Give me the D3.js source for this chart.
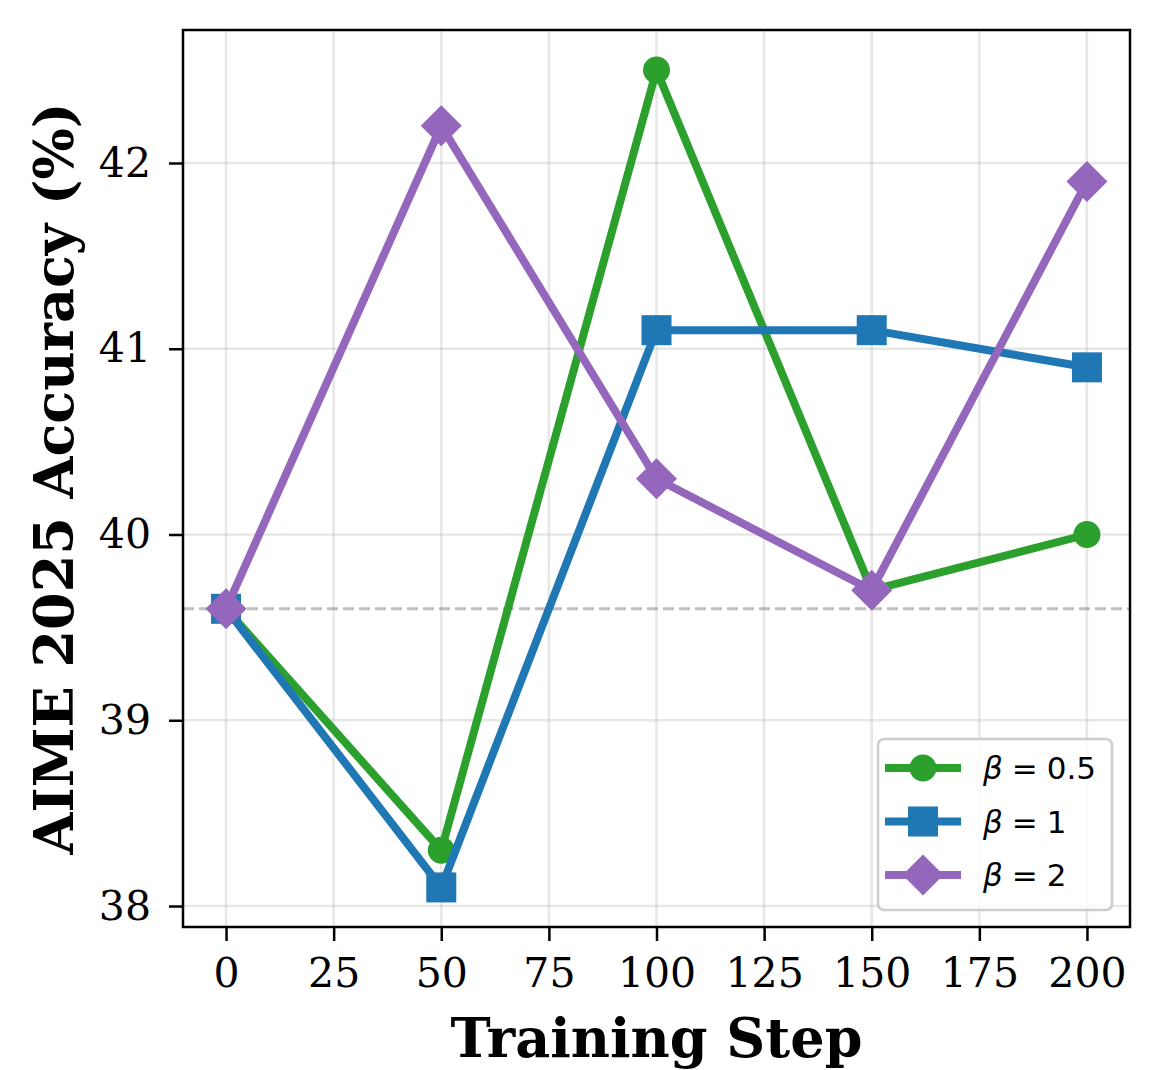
<!DOCTYPE html>
<html>
<head>
<meta charset="utf-8">
<script src="https://cdn.jsdelivr.net/npm/d3@7"></script>
<style>
  body { margin: 0; background: #fff; }
  svg { display: block; }
</style>
</head>
<body>
<div id="chart"></div>
<script>
// --- data ---
const steps = [0, 50, 100, 150, 200];
const beta05 = [39.6, 38.3, 42.5, 39.7, 40.0];
const beta1 = [39.6, 38.1, 41.1, 41.1, 40.9];
const beta2 = [39.6, 42.2, 40.3, 39.7, 41.9];
const baseline = 39.6;
const xTicks = [0, 25, 50, 75, 100, 125, 150, 175, 200];
const yTicks = [38, 39, 40, 41, 42];

const seriesList = [
    { label: '0.5', values: beta05, color: '#2ca02c', marker: 'circle' },
    { label: '1', values: beta1, color: '#1f77b4', marker: 'square' },
    { label: '2', values: beta2, color: '#9467bd', marker: 'diamond' }
];

const W = 1160, H = 1070;
const margin = { left: 183, top: 30, right: 30, bottom: 143 };
const serif = '"DejaVu Serif", serif';
const sans = '"DejaVu Sans", sans-serif';

const svg = d3.select('#chart').append('svg').attr('width', W).attr('height', H);

const x = d3.scaleLinear().domain([-10, 210]).range([margin.left, W - margin.right]);
const y = d3.scaleLinear().domain([37.887, 42.716]).range([H - margin.bottom, margin.top]);

// grid
const grid = svg.append('g');
grid.selectAll('.gx').data(xTicks).join('line')
    .attr('x1', d => x(d)).attr('x2', d => x(d))
    .attr('y1', y.range()[0]).attr('y2', y.range()[1])
    .attr('stroke', '#b0b0b0').attr('stroke-opacity', 0.3).attr('stroke-width', 2.5);
grid.selectAll('.gy').data(yTicks).join('line')
    .attr('y1', d => y(d)).attr('y2', d => y(d))
    .attr('x1', x.range()[0]).attr('x2', x.range()[1])
    .attr('stroke', '#b0b0b0').attr('stroke-opacity', 0.3).attr('stroke-width', 2.5);

// baseline
svg.append('line')
    .attr('x1', x.range()[0]).attr('x2', x.range()[1])
    .attr('y1', y(baseline)).attr('y2', y(baseline))
    .attr('stroke', '#808080').attr('stroke-opacity', 0.5)
    .attr('stroke-width', 3).attr('stroke-dasharray', '11,5');

// lines + markers
const line = d3.line().x((d, i) => x(steps[i])).y(d => y(d));

function drawMarker(g, type, cx, cy, color) {
    if (type === 'circle') {
        g.append('circle').attr('cx', cx).attr('cy', cy).attr('r', 13.5).attr('fill', color);
    } else if (type === 'square') {
        g.append('rect').attr('x', cx - 15).attr('y', cy - 15).attr('width', 30).attr('height', 30).attr('fill', color);
    } else {
        const r = 20.5;
        g.append('path').attr('d', `M${cx},${cy - r}L${cx + r},${cy}L${cx},${cy + r}L${cx - r},${cy}Z`).attr('fill', color);
    }
}

seriesList.forEach(s => {
    const g = svg.append('g');
    g.append('path').datum(s.values)
        .attr('d', line).attr('fill', 'none')
        .attr('stroke', s.color).attr('stroke-width', 8)
        .attr('stroke-linejoin', 'round').attr('stroke-linecap', 'square');
    s.values.forEach((v, i) => drawMarker(g, s.marker, x(steps[i]), y(v), s.color));
});

// frame
svg.append('rect')
    .attr('x', x.range()[0]).attr('y', y.range()[1])
    .attr('width', x.range()[1] - x.range()[0]).attr('height', y.range()[0] - y.range()[1])
    .attr('fill', 'none').attr('stroke', '#000').attr('stroke-width', 2.5);

// axes
const xAxis = svg.append('g').attr('transform', `translate(0,${y.range()[0]})`)
    .call(d3.axisBottom(x).tickValues(xTicks).tickSize(14).tickPadding(17).tickFormat(d3.format('d')));
const yAxis = svg.append('g').attr('transform', `translate(${x.range()[0]},0)`)
    .call(d3.axisLeft(y).tickValues(yTicks).tickSize(14).tickPadding(18).tickFormat(d3.format('d')));
[xAxis, yAxis].forEach(a => {
    a.select('.domain').remove();
    a.selectAll('.tick line').attr('stroke', '#000').attr('stroke-width', 2.5);
    a.selectAll('.tick text').attr('font-family', serif).attr('font-size', 41).attr('fill', '#000');
});

// axis titles
svg.append('text')
    .attr('x', (x.range()[0] + x.range()[1]) / 2).attr('y', 1057)
    .attr('text-anchor', 'middle').attr('font-family', serif)
    .attr('font-weight', 'bold').attr('font-size', 54)
    .text('Training Step');
svg.append('text')
    .attr('transform', `translate(73,${(y.range()[0] + y.range()[1]) / 2}) rotate(-90)`)
    .attr('text-anchor', 'middle').attr('font-family', serif)
    .attr('font-weight', 'bold').attr('font-size', 54)
    .text('AIME 2025 Accuracy (%)');

// legend
const legend = svg.append('g');
legend.append('rect')
    .attr('x', 878).attr('y', 739).attr('width', 234).attr('height', 171)
    .attr('rx', 6).attr('fill', '#fff').attr('fill-opacity', 0.8)
    .attr('stroke', '#cccccc').attr('stroke-width', 2.5);
seriesList.forEach((s, i) => {
    const ly = 768 + i * 53.5;
    const g = legend.append('g');
    g.append('line').attr('x1', 885).attr('x2', 961).attr('y1', ly).attr('y2', ly)
        .attr('stroke', s.color).attr('stroke-width', 8);
    drawMarker(g, s.marker, 923, ly, s.color);
    const t = g.append('text').attr('x', 983).attr('y', ly + 11)
        .attr('font-family', sans).attr('font-size', 31).attr('fill', '#000');
    t.append('tspan').attr('font-style', 'italic').text('β');
    t.append('tspan').attr('dx', 9).text('=');
    t.append('tspan').attr('dx', 9).text(s.label);
});
</script>
</body>
</html>
